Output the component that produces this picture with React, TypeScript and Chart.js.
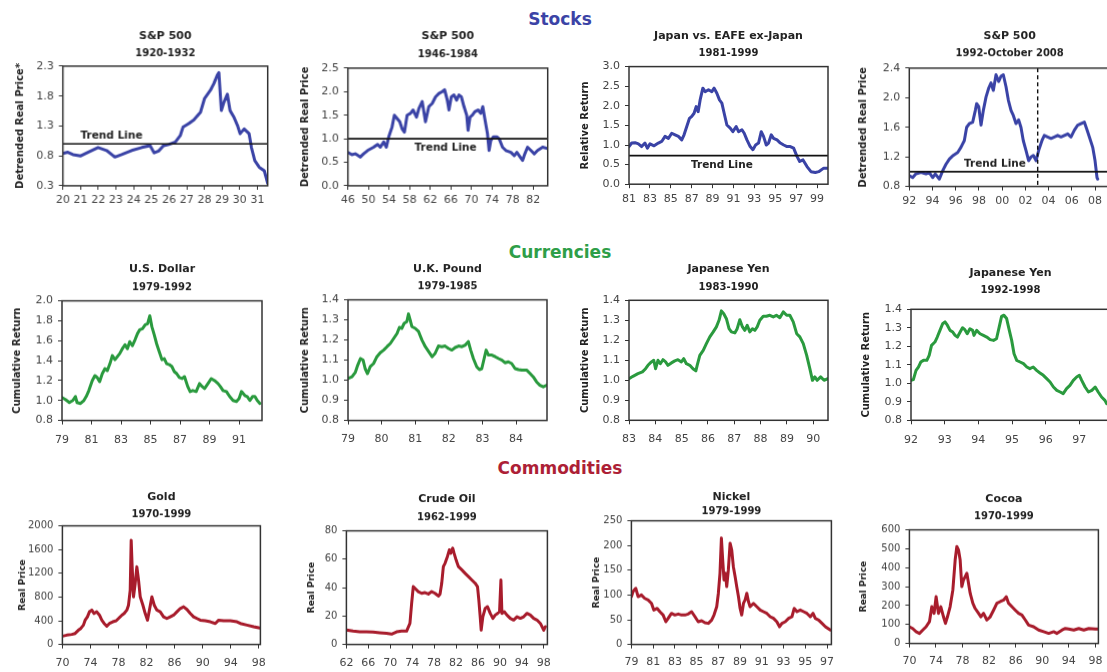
import React, { useEffect, useRef } from "react";
import { Chart, registerables } from "chart.js";

Chart.register(...registerables);

const FONT = '"DejaVu Sans", "Liberation Sans", Arial, sans-serif';
Chart.defaults.font.family = FONT;

const BLUE = "#3a43a6";
const GREEN = "#2a9a3e";
const RED = "#a81c2c";

// ---------------- Stocks ----------------
const sp1920Years = [20.0, 20.28, 20.57, 21.01, 21.42, 21.99, 22.47, 22.94, 23.32, 23.89, 24.46, 24.93, 25.16, 25.41, 25.69, 25.98, 26.36, 26.64, 26.79, 27.12, 27.4, 27.78, 28.01, 28.35, 28.54, 28.73, 28.82, 28.96, 29.11, 29.3, 29.45, 29.68, 29.87, 30.02, 30.25, 30.53, 30.66, 30.85, 31.1, 31.39, 31.58];
const sp1920Values = [0.84, 0.86, 0.82, 0.8, 0.86, 0.94, 0.89, 0.78, 0.82, 0.89, 0.94, 0.97, 0.85, 0.88, 0.97, 0.99, 1.03, 1.14, 1.28, 1.34, 1.4, 1.53, 1.76, 1.9, 2.01, 2.15, 2.19, 1.56, 1.7, 1.83, 1.56, 1.44, 1.31, 1.17, 1.25, 1.17, 0.94, 0.72, 0.61, 0.55, 0.34];
const sp1920XTicks = [20, 21, 22, 23, 24, 25, 26, 27, 28, 29, 30, 31];
const sp1920YTicks = [0.3, 0.8, 1.3, 1.8, 2.3];

const sp1946Years = [46.0, 46.78, 47.43, 48.4, 49.05, 49.83, 51.0, 51.78, 52.3, 52.95, 53.47, 53.93, 54.58, 55.03, 55.55, 56.07, 56.53, 56.98, 57.5, 58.15, 58.67, 59.32, 59.78, 60.43, 61.07, 61.72, 62.37, 63.02, 63.67, 64.32, 64.78, 65.3, 65.62, 66.08, 66.6, 67.12, 67.57, 68.03, 68.55, 69.07, 69.33, 69.72, 70.17, 70.63, 71.28, 71.8, 72.19, 72.58, 73.1, 73.42, 73.75, 74.27, 74.92, 75.37, 76.02, 76.67, 77.65, 78.3, 78.81, 79.46, 79.92, 80.37, 80.89, 81.54, 82.19, 82.84, 83.82, 84.79];
const sp1946Values = [0.71, 0.66, 0.68, 0.61, 0.68, 0.75, 0.82, 0.88, 0.82, 0.93, 0.82, 1.04, 1.25, 1.5, 1.43, 1.36, 1.21, 1.14, 1.5, 1.54, 1.61, 1.46, 1.64, 1.79, 1.36, 1.68, 1.75, 1.89, 1.96, 2.0, 2.04, 1.82, 1.61, 1.89, 1.93, 1.82, 1.93, 1.89, 1.68, 1.5, 1.18, 1.46, 1.5, 1.57, 1.61, 1.54, 1.68, 1.43, 1.11, 0.75, 0.96, 1.04, 1.04, 1.0, 0.82, 0.75, 0.71, 0.64, 0.71, 0.61, 0.54, 0.68, 0.82, 0.75, 0.68, 0.75, 0.82, 0.79];
const sp1946XTicks = [46, 50, 54, 58, 62, 66, 70, 74, 78, 82];
const sp1946YTicks = [0, 0.5, 1.0, 1.5, 2.0, 2.5];

const japanYears = [81.0, 81.26, 81.58, 81.9, 82.21, 82.53, 82.76, 83.01, 83.4, 83.81, 84.13, 84.45, 84.77, 85.09, 85.41, 85.73, 86.05, 86.27, 86.53, 86.79, 87.01, 87.23, 87.43, 87.62, 87.81, 88.07, 88.29, 88.61, 88.93, 89.15, 89.41, 89.66, 89.89, 90.11, 90.37, 90.69, 90.94, 91.26, 91.49, 91.81, 92.03, 92.29, 92.6, 92.86, 93.12, 93.4, 93.66, 93.88, 94.14, 94.36, 94.62, 94.84, 95.17, 95.49, 95.81, 96.13, 96.44, 96.76, 97.08, 97.34, 97.66, 98.04, 98.42, 98.84, 99.16, 99.64, 100.0];
const japanValues = [0.96, 1.05, 1.06, 1.03, 0.96, 1.05, 0.92, 1.03, 0.98, 1.05, 1.09, 1.22, 1.17, 1.3, 1.26, 1.22, 1.13, 1.26, 1.47, 1.68, 1.73, 1.81, 1.98, 1.85, 2.15, 2.45, 2.36, 2.41, 2.36, 2.45, 2.32, 2.15, 2.07, 1.81, 1.51, 1.43, 1.34, 1.47, 1.34, 1.39, 1.3, 1.13, 0.96, 0.88, 1.0, 1.05, 1.34, 1.22, 1.0, 1.05, 1.26, 1.17, 1.13, 1.05, 1.0, 0.96, 0.96, 0.92, 0.71, 0.58, 0.62, 0.45, 0.32, 0.3, 0.32, 0.41, 0.41];
const japanXTicks = [81, 83, 85, 87, 89, 91, 93, 95, 97, 99];
const japanYTicks = [0, 0.5, 1.0, 1.5, 2.0, 2.5, 3.0];

const sp1992Years = [92.0, 92.29, 92.57, 93.01, 93.44, 93.72, 94.01, 94.24, 94.59, 94.87, 95.16, 95.45, 95.79, 96.17, 96.45, 96.74, 96.94, 97.17, 97.46, 97.69, 97.8, 97.98, 98.18, 98.38, 98.61, 98.84, 99.04, 99.24, 99.47, 99.7, 99.9, 100.1, 100.33, 100.53, 100.76, 100.96, 101.19, 101.42, 101.62, 101.82, 102.05, 102.28, 102.49, 102.69, 102.92, 103.15, 103.43, 103.63, 103.92, 104.21, 104.5, 104.78, 105.07, 105.36, 105.65, 105.93, 106.22, 106.51, 106.79, 107.08, 107.28, 107.51, 107.8, 108.0, 108.17, 108.23];
const sp1992Values = [0.945, 0.92, 0.97, 0.99, 0.97, 0.99, 0.92, 0.97, 0.9, 1.01, 1.1, 1.17, 1.22, 1.26, 1.33, 1.42, 1.6, 1.65, 1.67, 1.83, 1.92, 1.88, 1.63, 1.83, 2.01, 2.13, 2.2, 2.1, 2.31, 2.22, 2.29, 2.31, 2.15, 1.97, 1.83, 1.76, 1.65, 1.7, 1.6, 1.42, 1.29, 1.15, 1.2, 1.22, 1.15, 1.29, 1.42, 1.49, 1.47, 1.45, 1.47, 1.49, 1.47, 1.49, 1.51, 1.47, 1.56, 1.63, 1.65, 1.67, 1.58, 1.47, 1.33, 1.15, 0.92, 0.9];
const sp1992XTicks = [92, 94, 96, 98, 100, 102, 104, 106, 108];
const sp1992YTicks = [0.8, 1.2, 1.6, 2.0, 2.4];

const stockTrendLevels = [1.0, 1.0, 0.73, 1.0];
const stockTrendLabelX = [22.75, 64.97, 89.89, 99.38];
const stockTrendLabelY = [1.14, 0.8, 0.48, 1.1];
const sp1992BreakYear = 103.06;

// ---------------- Currencies ----------------
const usdYears = [79.0, 79.23, 79.5, 79.73, 79.91, 80.02, 80.25, 80.48, 80.64, 80.82, 81.05, 81.23, 81.39, 81.55, 81.73, 81.91, 82.07, 82.25, 82.41, 82.59, 82.75, 82.91, 83.09, 83.27, 83.43, 83.59, 83.77, 83.95, 84.11, 84.27, 84.45, 84.64, 84.8, 84.95, 85.09, 85.25, 85.41, 85.59, 85.77, 85.93, 86.09, 86.27, 86.45, 86.61, 86.77, 86.95, 87.14, 87.3, 87.52, 87.68, 87.86, 88.09, 88.32, 88.5, 88.66, 88.89, 89.11, 89.34, 89.57, 89.73, 89.91, 90.14, 90.36, 90.59, 90.82, 91.0, 91.16, 91.39, 91.55, 91.73, 91.91, 92.07, 92.23, 92.41];
const usdValues = [1.03, 1.01, 0.98, 1.0, 1.04, 0.98, 0.97, 1.0, 1.04, 1.1, 1.2, 1.25, 1.23, 1.19, 1.27, 1.32, 1.3, 1.37, 1.45, 1.41, 1.44, 1.47, 1.52, 1.56, 1.52, 1.59, 1.55, 1.61, 1.67, 1.71, 1.72, 1.76, 1.77, 1.85, 1.74, 1.66, 1.57, 1.49, 1.41, 1.42, 1.37, 1.36, 1.34, 1.29, 1.27, 1.23, 1.22, 1.24, 1.14, 1.09, 1.1, 1.09, 1.17, 1.14, 1.12, 1.17, 1.22, 1.2, 1.17, 1.14, 1.1, 1.09, 1.04, 1.0, 0.99, 1.02, 1.09, 1.05, 1.04, 1.0, 1.04, 1.04, 1.0, 0.97];
const usdXTicks = [79, 81, 83, 85, 87, 89, 91];
const usdYTicks = [0.8, 1.0, 1.2, 1.4, 1.6, 1.8, 2.0];

const gbpYears = [79.0, 79.12, 79.22, 79.29, 79.37, 79.45, 79.51, 79.58, 79.66, 79.76, 79.86, 79.96, 80.06, 80.16, 80.26, 80.36, 80.46, 80.53, 80.6, 80.67, 80.75, 80.8, 80.85, 80.9, 81.0, 81.1, 81.2, 81.3, 81.4, 81.5, 81.59, 81.69, 81.79, 81.89, 81.99, 82.09, 82.19, 82.29, 82.39, 82.49, 82.58, 82.65, 82.73, 82.83, 82.91, 82.98, 83.05, 83.11, 83.18, 83.28, 83.38, 83.48, 83.58, 83.67, 83.77, 83.87, 83.97, 84.07, 84.17, 84.32, 84.42, 84.51, 84.61, 84.71, 84.81, 84.91];
const gbpValues = [1.008, 1.017, 1.04, 1.075, 1.108, 1.1, 1.058, 1.033, 1.067, 1.083, 1.117, 1.137, 1.15, 1.167, 1.183, 1.208, 1.233, 1.263, 1.258, 1.283, 1.292, 1.33, 1.3, 1.267, 1.258, 1.242, 1.2, 1.167, 1.142, 1.117, 1.133, 1.17, 1.167, 1.17, 1.158, 1.15, 1.163, 1.17, 1.167, 1.175, 1.192, 1.15, 1.108, 1.067, 1.053, 1.058, 1.108, 1.15, 1.125, 1.125, 1.117, 1.108, 1.1, 1.087, 1.092, 1.083, 1.058, 1.053, 1.05, 1.05, 1.033, 1.017, 0.992, 0.975, 0.967, 0.975];
const gbpXTicks = [79, 80, 81, 82, 83, 84];

const jpy83Years = [83.0, 83.15, 83.34, 83.51, 83.63, 83.72, 83.85, 83.94, 84.01, 84.1, 84.19, 84.29, 84.39, 84.48, 84.61, 84.74, 84.86, 84.99, 85.08, 85.18, 85.31, 85.43, 85.54, 85.59, 85.69, 85.82, 85.94, 86.07, 86.2, 86.32, 86.42, 86.51, 86.6, 86.7, 86.8, 86.89, 87.02, 87.11, 87.21, 87.31, 87.4, 87.49, 87.59, 87.69, 87.78, 87.87, 87.97, 88.1, 88.22, 88.35, 88.48, 88.6, 88.73, 88.86, 88.99, 89.11, 89.24, 89.37, 89.49, 89.62, 89.75, 89.87, 89.97, 90.06, 90.15, 90.28, 90.41, 90.55];
const jpy83Values = [1.008, 1.02, 1.033, 1.042, 1.058, 1.075, 1.092, 1.1, 1.058, 1.1, 1.083, 1.103, 1.092, 1.075, 1.087, 1.097, 1.103, 1.092, 1.108, 1.083, 1.075, 1.058, 1.047, 1.075, 1.125, 1.15, 1.183, 1.217, 1.242, 1.267, 1.3, 1.347, 1.333, 1.308, 1.258, 1.242, 1.237, 1.258, 1.303, 1.267, 1.25, 1.275, 1.242, 1.258, 1.25, 1.267, 1.3, 1.32, 1.32, 1.325, 1.317, 1.325, 1.313, 1.342, 1.325, 1.325, 1.292, 1.233, 1.217, 1.183, 1.125, 1.058, 1.0, 1.017, 1.0, 1.017, 1.0, 1.008];
const jpy83XTicks = [83, 84, 85, 86, 87, 88, 89, 90];

const jpy92Years = [92.0, 92.07, 92.15, 92.22, 92.29, 92.37, 92.47, 92.54, 92.61, 92.71, 92.78, 92.86, 92.94, 93.01, 93.08, 93.16, 93.24, 93.31, 93.38, 93.46, 93.53, 93.6, 93.67, 93.75, 93.83, 93.87, 93.95, 94.05, 94.15, 94.25, 94.35, 94.45, 94.54, 94.62, 94.69, 94.76, 94.84, 94.92, 94.99, 95.06, 95.14, 95.24, 95.34, 95.44, 95.53, 95.63, 95.73, 95.83, 95.93, 96.03, 96.13, 96.23, 96.33, 96.43, 96.52, 96.62, 96.72, 96.82, 96.92, 97.0, 97.07, 97.17, 97.27, 97.37, 97.47, 97.56, 97.66, 97.76, 97.81];
const jpy92Values = [1.016, 1.02, 1.07, 1.088, 1.115, 1.124, 1.124, 1.151, 1.205, 1.223, 1.25, 1.286, 1.322, 1.332, 1.314, 1.286, 1.277, 1.259, 1.25, 1.277, 1.3, 1.29, 1.268, 1.295, 1.286, 1.259, 1.286, 1.268, 1.259, 1.25, 1.236, 1.232, 1.241, 1.305, 1.362, 1.368, 1.35, 1.286, 1.232, 1.16, 1.124, 1.115, 1.106, 1.088, 1.079, 1.088, 1.07, 1.056, 1.043, 1.025, 1.007, 0.98, 0.962, 0.953, 0.944, 0.971, 0.989, 1.016, 1.034, 1.043, 1.016, 0.98, 0.953, 0.962, 0.98, 0.953, 0.926, 0.908, 0.89];
const jpy92XTicks = [92, 93, 94, 95, 96, 97];

const currencyYTicks = [0.8, 0.9, 1.0, 1.1, 1.2, 1.3, 1.4];

// ---------------- Commodities ----------------
const goldYears = [70.0, 70.62, 71.33, 71.81, 72.29, 72.62, 73.0, 73.24, 73.57, 73.86, 74.19, 74.52, 74.9, 75.29, 75.62, 75.95, 76.33, 76.71, 77.19, 77.67, 78.0, 78.48, 78.81, 79.19, 79.43, 79.67, 79.81, 79.95, 80.14, 80.38, 80.62, 80.86, 81.1, 81.48, 81.81, 82.14, 82.43, 82.76, 83.1, 83.48, 83.95, 84.43, 84.9, 85.38, 85.86, 86.33, 86.81, 87.29, 87.76, 88.24, 88.71, 89.19, 89.67, 90.38, 91.1, 91.81, 92.29, 93.0, 93.95, 94.9, 95.38, 96.33, 97.29, 98.0, 98.24];
const goldValues = [140, 157, 169, 185, 242, 270, 326, 410, 466, 551, 579, 522, 551, 494, 410, 354, 309, 354, 382, 399, 438, 494, 522, 579, 663, 916, 1758, 1309, 803, 1028, 1309, 1084, 803, 663, 522, 410, 590, 803, 663, 579, 551, 466, 438, 466, 494, 551, 607, 635, 590, 522, 466, 438, 410, 399, 382, 354, 410, 399, 399, 382, 354, 326, 298, 281, 275];
const goldXTicks = [70, 74, 78, 82, 86, 90, 94, 98];
const goldYTicks = [0, 400, 800, 1200, 1600, 2000];

const oilYears = [62.0, 63.22, 64.44, 65.66, 66.88, 68.1, 69.32, 70.24, 71.15, 72.07, 72.98, 73.59, 73.9, 74.2, 74.69, 75.12, 75.73, 76.34, 76.95, 77.56, 78.17, 78.78, 79.08, 79.39, 79.69, 80.0, 80.43, 80.79, 81.04, 81.4, 81.65, 82.01, 82.44, 83.05, 83.66, 84.27, 84.88, 85.49, 85.92, 86.16, 86.41, 86.59, 86.89, 87.32, 87.75, 88.24, 88.72, 89.15, 89.58, 89.94, 90.19, 90.37, 90.8, 91.29, 91.9, 92.51, 93.12, 93.73, 94.34, 94.95, 95.56, 96.17, 96.78, 97.39, 98.0, 98.3];
const oilValues = [10.1, 9.4, 8.9, 8.9, 8.7, 8.2, 7.8, 7.3, 8.9, 9.4, 9.4, 14.8, 28.9, 40.7, 38.8, 37.2, 36, 36.5, 35.5, 37.2, 36, 34.1, 35.5, 43, 54.8, 57.2, 61.9, 66.6, 64.2, 67.8, 64.2, 59.5, 54.8, 52.5, 50.1, 47.8, 45.4, 43.1, 40.7, 31.3, 19.5, 10.1, 19.5, 25.4, 26.6, 21.9, 18.4, 20.7, 21.9, 23.1, 45.4, 21.9, 23.1, 20.7, 18.4, 17.2, 19.5, 18.4, 19.5, 21.9, 20.7, 18.4, 17.2, 14.8, 10.1, 12.5];
const oilXTicks = [62, 66, 70, 74, 78, 82, 86, 90, 94, 98];
const oilYTicks = [0, 20, 40, 60, 80];

const nickelYears = [79.0, 79.15, 79.4, 79.62, 79.92, 80.23, 80.54, 80.85, 81.06, 81.37, 81.62, 81.92, 82.17, 82.38, 82.69, 83.0, 83.31, 83.62, 83.92, 84.23, 84.54, 84.85, 85.15, 85.46, 85.77, 86.08, 86.38, 86.6, 86.85, 87.0, 87.15, 87.28, 87.4, 87.52, 87.65, 87.77, 87.92, 88.08, 88.23, 88.38, 88.54, 88.69, 88.85, 89.0, 89.15, 89.31, 89.46, 89.62, 89.77, 89.92, 90.23, 90.54, 90.85, 91.15, 91.46, 91.77, 92.08, 92.38, 92.63, 92.85, 93.15, 93.46, 93.77, 93.98, 94.23, 94.54, 94.85, 95.15, 95.46, 95.71, 95.92, 96.23, 96.54, 96.85, 97.31];
const nickelValues = [96.6, 106.8, 113.5, 96.6, 100, 93.2, 89.9, 83.1, 69.6, 73, 66.2, 59.5, 45.9, 52.7, 62.8, 59.5, 61.5, 59.5, 59.5, 61.5, 66.2, 56.1, 45.9, 48, 43.9, 42.6, 49.3, 59.5, 76.4, 103.4, 143.9, 214.9, 171, 130.4, 143.9, 116.9, 150.7, 204.7, 191.2, 157.4, 137.2, 116.9, 96.6, 73, 59.5, 83.1, 89.9, 103.4, 86.5, 76.4, 83.1, 76.4, 69.6, 66.2, 62.8, 56.1, 52.7, 45.9, 35.8, 42.6, 45.9, 52.7, 56.1, 73, 66.2, 69.6, 66.2, 62.8, 56.1, 62.8, 52.7, 49.3, 42.6, 35.8, 29.1];
const nickelXTicks = [79, 81, 83, 85, 87, 89, 91, 93, 95, 97];
const nickelYTicks = [0, 50, 100, 150, 200, 250];

const cocoaYears = [70.0, 70.5, 71.01, 71.51, 72.01, 72.51, 73.02, 73.37, 73.72, 74.02, 74.37, 74.73, 75.13, 75.43, 75.73, 76.13, 76.54, 76.89, 77.14, 77.39, 77.64, 77.89, 78.14, 78.4, 78.65, 78.9, 79.15, 79.55, 79.9, 80.41, 80.76, 81.16, 81.66, 82.17, 82.67, 83.17, 83.68, 84.18, 84.58, 84.93, 85.43, 85.94, 86.44, 86.94, 87.45, 87.95, 88.7, 89.46, 90.21, 90.97, 91.72, 92.22, 92.98, 93.48, 93.98, 94.74, 95.49, 96.25, 97.0, 98.0, 98.41];
const cocoaValues = [88, 79, 62, 53, 71, 88, 115, 194, 159, 247, 159, 194, 141, 106, 141, 194, 282, 441, 512, 494, 441, 300, 335, 353, 371, 318, 265, 212, 185, 159, 141, 159, 124, 141, 176, 212, 221, 229, 247, 212, 194, 176, 159, 150, 124, 97, 88, 71, 62, 53, 62, 53, 71, 79, 76, 71, 79, 71, 79, 76, 76];
const cocoaXTicks = [70, 74, 78, 82, 86, 90, 94, 98];
const cocoaYTicks = [0, 100, 200, 300, 400, 500, 600];

// ---------------- Panel definitions ----------------
type Geo = {
  yTitleX: number; plotLeft: number; plotRight: number; plotTop: number; plotBottom: number;
  titleY: number; subtitleY: number; xLabelPad: number; yTitleSize: number; yTickSize: number;
};
type PanelDef = {
  title: string; subtitle: string; yTitle: string; color: string;
  xs: number[]; ys: number[]; xTicks: number[]; yTicks: number[]; xMax: number; yDec: number;
  trend?: { level: number; lx: number; ly: number }; dashedX?: number; geo: Geo;
};

const PANELS: PanelDef[] = [
  { title: "S&P 500", subtitle: "1920-1932", yTitle: "Detrended Real Price*", color: BLUE, xs: sp1920Years, ys: sp1920Values, xTicks: sp1920XTicks, yTicks: sp1920YTicks, xMax: 31.58, yDec: 1,
    trend: { level: stockTrendLevels[0], lx: stockTrendLabelX[0], ly: stockTrendLabelY[0] },
    geo: { yTitleX: 20, plotLeft: 62.7, plotRight: 266.7, plotTop: 66, plotBottom: 185, titleY: 36.7, subtitleY: 54, xLabelPad: 4, yTitleSize: 10, yTickSize: 11 } },
  { title: "S&P 500", subtitle: "1946-1984", yTitle: "Detrended Real Price", color: BLUE, xs: sp1946Years, ys: sp1946Values, xTicks: sp1946XTicks, yTicks: sp1946YTicks, xMax: 84.8, yDec: 1,
    trend: { level: stockTrendLevels[1], lx: stockTrendLabelX[1], ly: stockTrendLabelY[1] },
    geo: { yTitleX: 305, plotLeft: 347.7, plotRight: 546.7, plotTop: 68, plotBottom: 185, titleY: 36.7, subtitleY: 54.3, xLabelPad: 4, yTitleSize: 10, yTickSize: 11 } },
  { title: "Japan vs. EAFE ex-Japan", subtitle: "1981-1999", yTitle: "Relative Return", color: BLUE, xs: japanYears, ys: japanValues, xTicks: japanXTicks, yTicks: japanYTicks, xMax: 100.05, yDec: 1,
    trend: { level: stockTrendLevels[2], lx: stockTrendLabelX[2], ly: stockTrendLabelY[2] },
    geo: { yTitleX: 585, plotLeft: 629, plotRight: 828, plotTop: 66.7, plotBottom: 184.3, titleY: 36.7, subtitleY: 53.3, xLabelPad: 4, yTitleSize: 10, yTickSize: 11 } },
  { title: "S&P 500", subtitle: "1992-October 2008", yTitle: "Detrended Real Price", color: BLUE, xs: sp1992Years, ys: sp1992Values, xTicks: sp1992XTicks, yTicks: sp1992YTicks, xMax: 109.29, yDec: 1,
    trend: { level: stockTrendLevels[3], lx: stockTrendLabelX[3], ly: stockTrendLabelY[3] }, dashedX: sp1992BreakYear,
    geo: { yTitleX: 863, plotLeft: 909.3, plotRight: 1110, plotTop: 68, plotBottom: 185.7, titleY: 36.7, subtitleY: 54, xLabelPad: 4, yTitleSize: 10, yTickSize: 11 } },

  { title: "U.S. Dollar", subtitle: "1979-1992", yTitle: "Cumulative Return", color: GREEN, xs: usdYears, ys: usdValues, xTicks: usdXTicks, yTicks: usdYTicks, xMax: 92.55, yDec: 1,
    geo: { yTitleX: 17, plotLeft: 62, plotRight: 262, plotTop: 301, plotBottom: 420, titleY: 270, subtitleY: 288, xLabelPad: 9, yTitleSize: 10, yTickSize: 11 } },
  { title: "U.K. Pound", subtitle: "1979-1985", yTitle: "Cumulative Return", color: GREEN, xs: gbpYears, ys: gbpValues, xTicks: gbpXTicks, yTicks: currencyYTicks, xMax: 84.92, yDec: 1,
    geo: { yTitleX: 305, plotLeft: 348, plotRight: 547, plotTop: 300, plotBottom: 420, titleY: 270, subtitleY: 286.7, xLabelPad: 8, yTitleSize: 10, yTickSize: 11 } },
  { title: "Japanese Yen", subtitle: "1983-1990", yTitle: "Cumulative Return", color: GREEN, xs: jpy83Years, ys: jpy83Values, xTicks: jpy83XTicks, yTicks: currencyYTicks, xMax: 90.56, yDec: 1,
    geo: { yTitleX: 585, plotLeft: 629, plotRight: 828, plotTop: 300, plotBottom: 420, titleY: 269.3, subtitleY: 286.7, xLabelPad: 8, yTitleSize: 10, yTickSize: 11 } },
  { title: "Japanese Yen", subtitle: "1992-1998", yTitle: "Cumulative Return", color: GREEN, xs: jpy92Years, ys: jpy92Values, xTicks: jpy92XTicks, yTicks: currencyYTicks, xMax: 97.91, yDec: 1,
    geo: { yTitleX: 866, plotLeft: 911, plotRight: 1110, plotTop: 309, plotBottom: 420, titleY: 273.3, subtitleY: 290, xLabelPad: 9, yTitleSize: 10, yTickSize: 11 } },

  { title: "Gold", subtitle: "1970-1999", yTitle: "Real Price", color: RED, xs: goldYears, ys: goldValues, xTicks: goldXTicks, yTicks: goldYTicks, xMax: 98.24, yDec: 0,
    geo: { yTitleX: 22, plotLeft: 62, plotRight: 260, plotTop: 526, plotBottom: 644, titleY: 498, subtitleY: 515, xLabelPad: 8, yTitleSize: 9, yTickSize: 10 } },
  { title: "Crude Oil", subtitle: "1962-1999", yTitle: "Real Price", color: RED, xs: oilYears, ys: oilValues, xTicks: oilXTicks, yTicks: oilYTicks, xMax: 98.67, yDec: 0,
    geo: { yTitleX: 311, plotLeft: 346, plotRight: 547, plotTop: 531, plotBottom: 644, titleY: 500, subtitleY: 518, xLabelPad: 8, yTitleSize: 9, yTickSize: 10 } },
  { title: "Nickel", subtitle: "1979-1999", yTitle: "Real Price", color: RED, xs: nickelYears, ys: nickelValues, xTicks: nickelXTicks, yTicks: nickelYTicks, xMax: 97.4, yDec: 0,
    geo: { yTitleX: 596, plotLeft: 631, plotRight: 831, plotTop: 521, plotBottom: 644, titleY: 498, subtitleY: 512, xLabelPad: 7, yTitleSize: 9, yTickSize: 10 } },
  { title: "Cocoa", subtitle: "1970-1999", yTitle: "Real Price", color: RED, xs: cocoaYears, ys: cocoaValues, xTicks: cocoaXTicks, yTicks: cocoaYTicks, xMax: 98.45, yDec: 0,
    geo: { yTitleX: 863, plotLeft: 909, plotRight: 1098, plotTop: 530, plotBottom: 643, titleY: 500, subtitleY: 516.7, xLabelPad: 7, yTitleSize: 9, yTickSize: 10 } },
];

const decorPlugin = {
  id: "decor",
  afterDatasetsDraw(chart: any, _args: any, opts: any) {
    const { ctx, chartArea, scales } = chart;
    const { left, right, top, bottom } = chartArea;
    ctx.save();
    if (opts.trend) {
      const y = scales.y.getPixelForValue(opts.trend.level);
      ctx.strokeStyle = "#111";
      ctx.lineWidth = 1.6;
      ctx.beginPath();
      ctx.moveTo(left, y);
      ctx.lineTo(right, y);
      ctx.stroke();
      ctx.fillStyle = "#222";
      ctx.font = `bold 10.5px ${FONT}`;
      ctx.textAlign = "center";
      ctx.textBaseline = "middle";
      ctx.fillText("Trend Line", scales.x.getPixelForValue(opts.trend.lx), scales.y.getPixelForValue(opts.trend.ly));
    }
    if (opts.dashedX != null) {
      const x = scales.x.getPixelForValue(opts.dashedX);
      ctx.strokeStyle = "#111";
      ctx.lineWidth = 1.4;
      ctx.setLineDash([4, 3]);
      ctx.beginPath();
      ctx.moveTo(x, top);
      ctx.lineTo(x, bottom);
      ctx.stroke();
      ctx.setLineDash([]);
    }
    ctx.strokeStyle = "#333";
    ctx.lineWidth = 1.5;
    ctx.strokeRect(left, top, right - left, bottom - top);
    ctx.restore();
  },
};

function Panel({ def }: { def: PanelDef }) {
  const ref = useRef<HTMLCanvasElement>(null);
  const g = def.geo;
  const yLH = g.yTitleSize * 1.2;
  const TITLE_LH = 11 * 1.2;
  const SUB_LH = 10 * 1.2;
  const RIGHT_PAD = 14;
  const X_H = 30;
  const left = g.yTitleX - yLH / 2;
  const top = g.titleY - TITLE_LH / 2;
  const width = g.plotRight + RIGHT_PAD - left;
  const height = g.plotBottom + X_H - top;
  const yAxisW = g.plotLeft - left;
  const subTop = Math.max(0, g.subtitleY - g.titleY - TITLE_LH / 2 - SUB_LH / 2);
  const subBottom = Math.max(0, g.plotTop - g.subtitleY - SUB_LH / 2);

  useEffect(() => {
    const chart = new Chart(ref.current as HTMLCanvasElement, {
      type: "line",
      data: {
        datasets: [
          {
            data: def.xs.map((x, i) => ({ x, y: def.ys[i] })),
            borderColor: def.color,
            borderWidth: 3,
            pointRadius: 0,
            fill: false,
            tension: 0,
            borderJoinStyle: "round",
            borderCapStyle: "round",
          } as any,
        ],
      },
      options: {
        animation: false,
        responsive: true,
        maintainAspectRatio: false,
        layout: { padding: { left: 0, top: 0, right: RIGHT_PAD, bottom: 0 } },
        plugins: {
          legend: { display: false },
          tooltip: { enabled: false },
          title: {
            display: true, text: def.title, color: "#222", fullSize: false,
            font: { size: 11, weight: "bold", family: FONT, lineHeight: 1.2 },
            padding: { top: 0, bottom: 0 },
          },
          subtitle: {
            display: true, text: def.subtitle, color: "#222", fullSize: false,
            font: { size: 10, weight: "bold", family: FONT, lineHeight: 1.2 },
            padding: { top: subTop, bottom: subBottom },
          },
          decor: { trend: def.trend, dashedX: def.dashedX },
        } as any,
        scales: {
          x: {
            type: "linear",
            min: def.xTicks[0],
            max: def.xMax,
            afterBuildTicks: (s: any) => { s.ticks = def.xTicks.map((v) => ({ value: v })); },
            afterFit: (s: any) => { s.height = X_H; },
            ticks: {
              autoSkip: false, maxRotation: 0, minRotation: 0,
              padding: g.xLabelPad, color: "#444",
              font: { size: 11, family: FONT },
              callback: (v: any) => String(Math.round(Number(v)) % 100).padStart(2, "0"),
            },
            grid: { display: true, drawOnChartArea: false, drawTicks: true, tickLength: 4, color: "#333", lineWidth: 1 },
            border: { display: false },
          },
          y: {
            type: "linear",
            min: def.yTicks[0],
            max: def.yTicks[def.yTicks.length - 1],
            afterBuildTicks: (s: any) => { s.ticks = def.yTicks.map((v) => ({ value: v })); },
            afterFit: (s: any) => { s.width = yAxisW; },
            ticks: {
              padding: 5, color: "#444",
              font: { size: g.yTickSize, family: FONT },
              callback: (v: any) => Number(v).toFixed(def.yDec),
            },
            grid: { display: true, drawOnChartArea: false, drawTicks: true, tickLength: 4, color: "#333", lineWidth: 1 },
            border: { display: false },
            title: {
              display: true, text: def.yTitle, color: "#222",
              font: { size: g.yTitleSize, weight: "bold", family: FONT, lineHeight: 1.2 },
              padding: 0,
            },
          },
        },
      } as any,
      plugins: [decorPlugin],
    });
    return () => chart.destroy();
  }, []);

  return (
    <div style={{ position: "absolute", left, top, width, height }}>
      <canvas ref={ref} />
    </div>
  );
}

const SECTIONS = [
  { text: "Stocks", color: "#3b43a6", centerY: 19 },
  { text: "Currencies", color: "#2e9e48", centerY: 251.5 },
  { text: "Commodities", color: "#ad1f36", centerY: 468 },
];

export default function App() {
  return (
    <div style={{ position: "absolute", left: 0, top: 0, width: 1107, height: 672, overflow: "hidden", background: "#fff" }}>
      {SECTIONS.map((s) => (
        <div key={s.text} style={{ position: "absolute", left: 360, width: 400, top: s.centerY - 10, height: 20, lineHeight: "20px", textAlign: "center", font: `bold 17px ${FONT}`, color: s.color }}>
          {s.text}
        </div>
      ))}
      {PANELS.map((p, i) => (
        <Panel key={i} def={p} />
      ))}
    </div>
  );
}
